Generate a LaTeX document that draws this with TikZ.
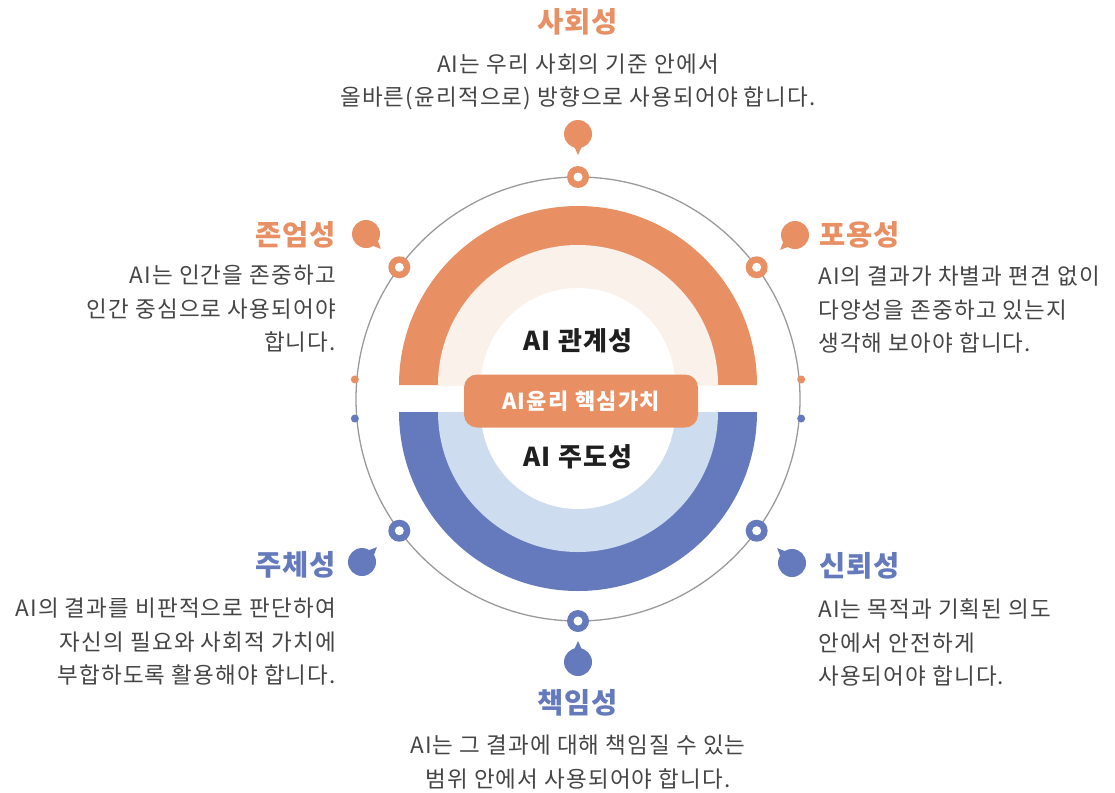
\documentclass[tikz,border=0pt]{standalone}
\usepackage{fontspec}
\setmainfont{Noto Sans CJK KR}
\usetikzlibrary{calc,positioning}

\definecolor{coral}{HTML}{E89064}
\definecolor{coralpale}{HTML}{FAF2EA}
\definecolor{slateblue}{HTML}{657ABD}
\definecolor{bluepale}{HTML}{CDDCEE}
\definecolor{bodygray}{HTML}{454545}
\definecolor{ringgray}{HTML}{9A9A9A}

\tikzset{
  valuetitle/.style={font=\bfseries\fontsize{28.5}{30}\selectfont\addfontfeatures{LetterSpace=3}, inner sep=0pt},
  valuetext/.style={font=\fontsize{22.5}{33.5}\selectfont\addfontfeatures{LetterSpace=5}, text=bodygray, inner sep=0pt},
  coretext/.style={font=\bfseries\fontsize{26}{28}\selectfont\addfontfeatures{LetterSpace=5}, text=black!88, inner sep=0pt},
}

% speech dot: centre, tail direction, colour
\newcommand{\talkdot}[3]{%
  \fill[#3] (#1) circle (14);
  \fill[#3] ($(#1)+(#2-22:12)$) -- ($(#1)+(#2:21)$) -- ($(#1)+(#2+22:12)$) -- cycle;}

\begin{document}
\begin{tikzpicture}[x=1pt,y=1pt]
	\useasboundingbox (0,0) rectangle (1115,-792);
	\coordinate (mid) at (578,-399);

	% Outer ring
	\draw[ringgray, line width=1.3pt] (mid) circle (222);

	% Upper half
	\fill[coral] (399,-385) arc (180:0:179) -- cycle;
	\fill[coralpale] (438,-385) arc (180:0:140) -- cycle;
	\fill[white] (481,-385) arc (180:0:97) -- cycle;

	% Lower half
	\fill[slateblue] (399,-412) arc (180:360:179) -- cycle;
	\fill[bluepale] (438,-412) arc (180:360:140) -- cycle;
	\fill[white] (481,-412) arc (180:360:97) -- cycle;

	% Centre
	\node[coretext] (rel) at (578,-341) {AI 관계성};
	\node[coretext] (lead) at (578,-457) {AI 주도성};
	\node[fill=coral, rounded corners=13pt, minimum width=234pt, minimum height=53pt,
	      text=white, font=\bfseries\fontsize{22}{24}\selectfont\addfontfeatures{LetterSpace=6}] (core) at (581,-401) {AI윤리 핵심가치};

	% Markers on the ring
	\foreach \a/\c in {90/coral, 143.6/coral, 36.4/coral, -90/slateblue, -143.6/slateblue, -36.4/slateblue}{
		\fill[\c] ($(mid)+(\a:222)$) circle (11);
		\fill[white] ($(mid)+(\a:222)$) circle (4.5);
	}
	\foreach \a/\c in {175/coral, 5/coral, 185/slateblue, -5/slateblue}
		\fill[\c] ($(mid)+(\a:224)$) circle (4);

	% Speech dots
	\talkdot{578,-134}{-90}{coral}
	\talkdot{366,-234}{-45}{coral}
	\talkdot{795,-235}{-135}{coral}
	\talkdot{362,-562}{45}{slateblue}
	\talkdot{792,-563}{135}{slateblue}
	\talkdot{578,-662}{90}{slateblue}

	% Labels
	\node[valuetitle, text=coral] (social) at (578,-22) {사회성};
	\node[valuetext, align=center] (socialtxt) at (578,-82) {AI는 우리 사회의 기준 안에서\\올바른(윤리적으로) 방향으로 사용되어야 합니다.};

	\node[valuetitle, text=coral, anchor=east] (dignity) at (336,-235) {존엄성};
	\node[valuetext, align=right, anchor=east] (dignitytxt) at (336,-309) {AI는 인간을 존중하고\\인간 중심으로 사용되어야\\합니다.};

	\node[valuetitle, text=coral, anchor=west] (inclusion) at (819,-235) {포용성};
	\node[valuetext, align=left, anchor=west] (inclusiontxt) at (818,-310) {AI의 결과가 차별과 편견 없이\\다양성을 존중하고 있는지\\생각해 보아야 합니다.};

	\node[valuetitle, text=slateblue, anchor=east] (agency) at (336,-565) {주체성};
	\node[valuetext, align=right, anchor=east] (agencytxt) at (336,-642) {AI의 결과를 비판적으로 판단하여\\자신의 필요와 사회적 가치에\\부합하도록 활용해야 합니다.};

	\node[valuetitle, text=slateblue, anchor=west] (trust) at (819,-566) {신뢰성};
	\node[valuetext, align=left, anchor=west] (trusttxt) at (818,-643) {AI는 목적과 기획된 의도\\안에서 안전하게\\사용되어야 합니다.};

	\node[valuetitle, text=slateblue] (duty) at (578,-703) {책임성};
	\node[valuetext, align=center] (dutytxt) at (578,-762) {AI는 그 결과에 대해 책임질 수 있는\\범위 안에서 사용되어야 합니다.};
\end{tikzpicture}
\end{document}
